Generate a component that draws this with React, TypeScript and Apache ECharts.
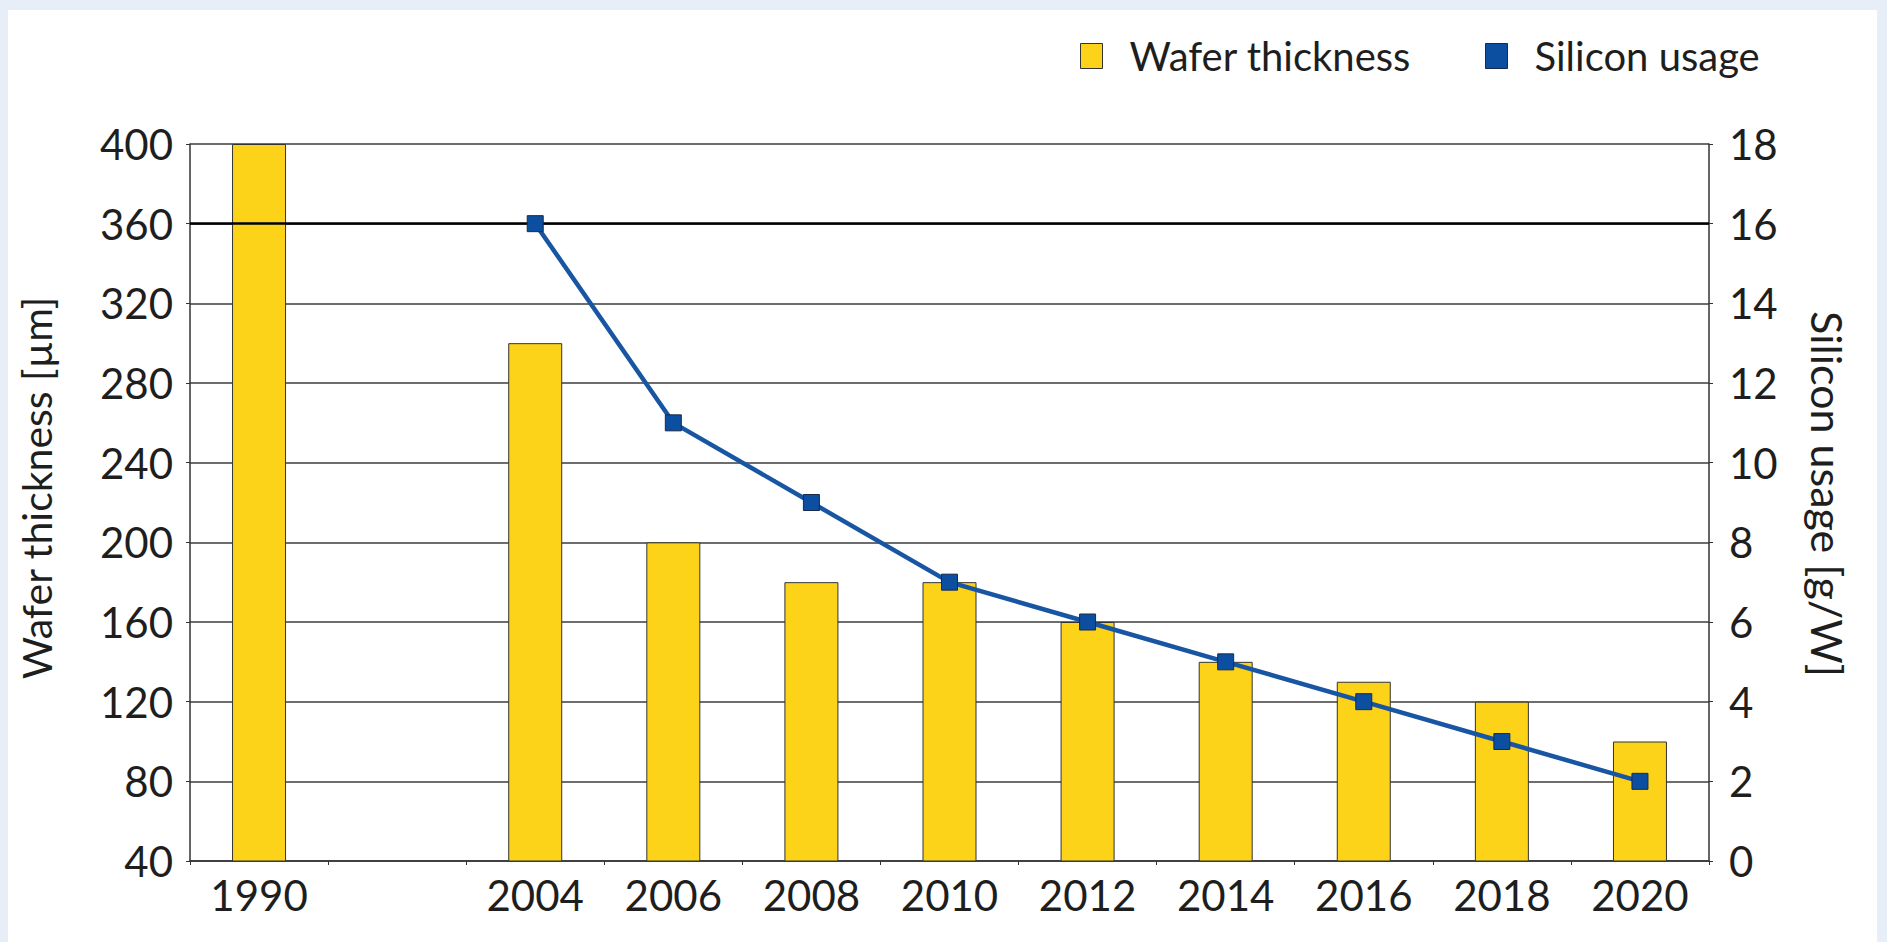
import React, { useEffect, useRef } from "react";
import * as echarts from "echarts";

const years = ["1990", "", "2004", "2006", "2008", "2010", "2012", "2014", "2016", "2018", "2020"];
const waferThickness = [400, null, 300, 200, 180, 180, 160, 140, 130, 120, 100];
const siliconUsage = [null, null, 16, 11, 9, 7, 6, 5, 4, 3, 2];
const leftTicks = { min: 40, max: 400, interval: 40 };
const rightTicks = { min: 0, max: 18, interval: 2 };
const leftTitle = "Wafer thickness [µm]";
const rightTitle = "Silicon usage [g/W]";

const FONT = "Lato, 'Open Sans', 'Noto Sans', sans-serif";
const TEXT = "#1e1e1e";
const YELLOW = "#fdd319";
const BLUE = "#0c4fa0";

export default function App() {
  const ref = useRef<HTMLDivElement>(null);
  useEffect(() => {
    if (!ref.current) return;
    const chart = echarts.init(ref.current, null, { renderer: "svg" });
    const legendBase = {
      top: 21,
      itemWidth: 22,
      itemHeight: 25,
      textStyle: { fontSize: 40, color: TEXT, fontFamily: FONT, padding: [0, 0, 0, 22] },
    };
    chart.setOption({
      animation: false,
      backgroundColor: "#ffffff",
      textStyle: { fontFamily: FONT },
      legend: [
        {
          ...legendBase,
          left: 1067,
          data: [{ name: "Wafer thickness", icon: "rect", itemStyle: { color: YELLOW, borderColor: "#333", borderWidth: 1 } }],
        },
        {
          ...legendBase,
          left: 1472,
          data: [{ name: "Silicon usage", icon: "rect", itemStyle: { color: BLUE, borderColor: "#1a2a4a", borderWidth: 1 } }],
        },
      ],
      graphic: [
        {
          type: "text",
          x: 28,
          y: 478,
          rotation: Math.PI / 2,
          style: { text: leftTitle, fontSize: 41, fill: TEXT, fontFamily: FONT, align: "center", verticalAlign: "middle" },
        },
        {
          type: "text",
          x: 1819,
          y: 484,
          rotation: -Math.PI / 2,
          style: { text: rightTitle, fontSize: 43, fill: TEXT, fontFamily: FONT, align: "center", verticalAlign: "middle" },
        },
      ],
      grid: { left: 182, right: 168, top: 134, bottom: 81 },
      xAxis: {
        type: "category",
        data: years,
        boundaryGap: true,
        axisLine: { lineStyle: { color: "#333", width: 1.5 } },
        axisTick: { show: true, interval: 0, length: 4, lineStyle: { color: "#333" } },
        axisLabel: { interval: 0, fontSize: 42, color: TEXT, margin: 13, fontFamily: FONT },
      },
      yAxis: [
        {
          type: "value",
          min: leftTicks.min,
          max: leftTicks.max,
          interval: leftTicks.interval,
          axisLine: { show: true, lineStyle: { color: "#333", width: 1.5 } },
          axisTick: { show: true, length: 4, lineStyle: { color: "#333" } },
          axisLabel: { fontSize: 42, color: TEXT, margin: 17, fontFamily: FONT },
          splitLine: { show: true, lineStyle: { color: "#3c3c3c", width: 1.5 } },
        },
        {
          type: "value",
          min: rightTicks.min,
          max: rightTicks.max,
          interval: rightTicks.interval,
          axisLine: { show: true, lineStyle: { color: "#333", width: 1.5 } },
          axisTick: { show: true, length: 4, lineStyle: { color: "#333" } },
          axisLabel: { fontSize: 42, color: TEXT, margin: 20, fontFamily: FONT },
          splitLine: { show: false },
        },
      ],
      series: [
        {
          name: "Wafer thickness",
          type: "bar",
          yAxisIndex: 0,
          data: waferThickness,
          barWidth: 54,
          itemStyle: { color: YELLOW, borderColor: "#333", borderWidth: 1 },
          markLine: {
            silent: true,
            symbol: "none",
            label: { show: false },
            lineStyle: { color: "#000", width: 2.5, type: "solid" },
            data: [{ yAxis: 360 }],
          },
          z: 2,
        },
        {
          name: "Silicon usage",
          type: "line",
          yAxisIndex: 1,
          data: siliconUsage,
          symbol: "rect",
          symbolSize: 16,
          showSymbol: true,
          lineStyle: { color: "#1856a3", width: 4.5 },
          itemStyle: { color: BLUE, borderColor: "#1a2a4a", borderWidth: 1 },
          z: 5,
        },
      ],
    });
    return () => chart.dispose();
  }, []);
  return (
    <div style={{ position: "fixed", left: 0, top: 0, width: 1887, height: 942, background: "#e8eef8" }}>
      <div ref={ref} style={{ position: "absolute", left: 8, top: 10, width: 1869, height: 932, background: "#fff" }} />
    </div>
  );
}
